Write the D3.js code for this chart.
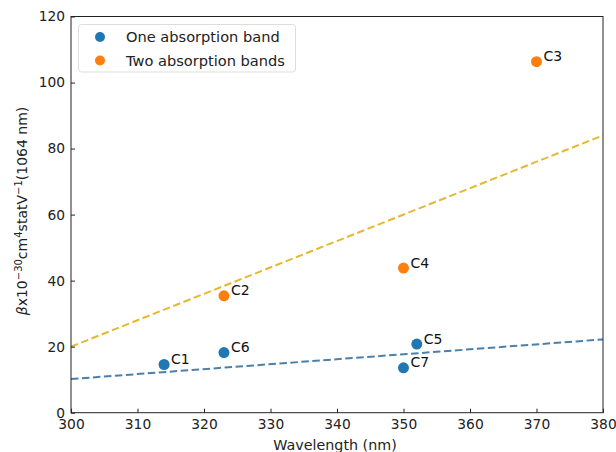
<!DOCTYPE html>
<html>
<head>
<meta charset="utf-8">
<script src="https://cdn.jsdelivr.net/npm/d3@7"></script>
<style>
  html, body { margin: 0; padding: 0; background: #fff; }
  svg { display: block; font-family: "DejaVu Sans", sans-serif; }
</style>
</head>
<body>
<svg id="chart" width="616" height="452"></svg>
<script>
// Compounds with one absorption band
const oneNames = ["C1", "C6", "C5", "C7"];
const oneWavelength = [314, 323, 352, 350];
const oneBeta = [14.6, 18.2, 20.8, 13.6];

// Compounds with two absorption bands
const twoNames = ["C2", "C4", "C3"];
const twoWavelength = [323, 350, 370];
const twoBeta = [35.4, 43.8, 106.3];

// Linear trend lines (endpoints)
const trendX = [300, 380];
const oneTrendY = [10.2, 22.2];
const twoTrendY = [20.0, 84.0];

const xTicks = [300, 310, 320, 330, 340, 350, 360, 370, 380];
const yTicks = [0, 20, 40, 60, 80, 100, 120];

const svg = d3.select("#chart");
const m = { left: 71, right: 603, top: 16.5, bottom: 412.7 };

const x = d3.scaleLinear().domain([300, 380]).range([m.left, m.right]);
const y = d3.scaleLinear().domain([0, 120]).range([m.bottom, m.top]);

// Trend lines
const line = d3.line().x(d => x(d[0])).y(d => y(d[1]));
svg.append("path")
  .datum(trendX.map((v, i) => [v, oneTrendY[i]]))
  .attr("d", line).attr("fill", "none")
  .attr("stroke", "#4a80aa").attr("stroke-width", 2)
  .attr("stroke-dasharray", "7.5,3.5");
svg.append("path")
  .datum(trendX.map((v, i) => [v, twoTrendY[i]]))
  .attr("d", line).attr("fill", "none")
  .attr("stroke", "#e5b832").attr("stroke-width", 2)
  .attr("stroke-dasharray", "7.5,3.5");

// Scatter points with labels
function drawSeries(names, xs, ys, color) {
  const data = names.map((n, i) => ({ n, x: xs[i], y: ys[i] }));
  const g = svg.append("g");
  g.selectAll("circle").data(data).enter().append("circle")
    .attr("cx", d => x(d.x)).attr("cy", d => y(d.y))
    .attr("r", 5.5).attr("fill", color);
  g.selectAll("text").data(data).enter().append("text")
    .attr("x", d => x(d.x) + 7).attr("y", d => y(d.y) - 0.5)
    .attr("font-size", 14).attr("fill", "#111")
    .text(d => d.n);
}
drawSeries(oneNames, oneWavelength, oneBeta, "#1f77b4");
drawSeries(twoNames, twoWavelength, twoBeta, "#ff7f0e");

// Axes with inward ticks
const xAxis = svg.append("g").attr("transform", `translate(0,${m.bottom})`)
  .call(d3.axisBottom(x).tickValues(xTicks).tickSize(-4).tickPadding(6.5).tickFormat(d3.format("d")));
const yAxis = svg.append("g").attr("transform", `translate(${m.left},0)`)
  .call(d3.axisLeft(y).tickValues(yTicks).tickSize(-4).tickPadding(6).tickFormat(d3.format("d")));
[xAxis, yAxis].forEach(a => {
  a.select(".domain").remove();
  a.selectAll("text").attr("font-size", 13.8).attr("font-family", "DejaVu Sans, sans-serif").attr("fill", "#222");
  a.selectAll("line").attr("stroke", "#222");
});

// Frame
svg.append("rect")
  .attr("x", m.left).attr("y", m.top)
  .attr("width", m.right - m.left).attr("height", m.bottom - m.top)
  .attr("fill", "none").attr("stroke", "#222").attr("stroke-width", 1);

// Axis titles
svg.append("text")
  .attr("x", 335).attr("y", 450)
  .attr("text-anchor", "middle").attr("font-size", 14.3).attr("fill", "#222")
  .text("Wavelength (nm)");

const yl = svg.append("text")
  .attr("transform", `translate(27,211) rotate(-90)`)
  .attr("text-anchor", "middle").attr("font-size", 14).attr("fill", "#222");
yl.append("tspan").attr("font-style", "italic").text("β");
yl.append("tspan").text("x10");
yl.append("tspan").attr("dy", -5.5).attr("font-size", 10).text("−30");
yl.append("tspan").attr("dy", 5.5).text("cm");
yl.append("tspan").attr("dy", -5.5).attr("font-size", 10).text("4");
yl.append("tspan").attr("dy", 5.5).text("statV");
yl.append("tspan").attr("dy", -5.5).attr("font-size", 10).text("−1");
yl.append("tspan").attr("dy", 5.5).text("(1064 nm)");

// Legend
const legendItems = [["One absorption band", "#1f77b4"], ["Two absorption bands", "#ff7f0e"]];
const lg = svg.append("g");
lg.append("rect").attr("x", 78.5).attr("y", 24.5).attr("width", 217).attr("height", 47.5)
  .attr("rx", 3).attr("fill", "#fff").attr("fill-opacity", 0.8)
  .attr("stroke", "#ddd");
legendItems.forEach((d, i) => {
  lg.append("circle").attr("cx", 100).attr("cy", 37 + i * 23.5).attr("r", 5).attr("fill", d[1]);
  lg.append("text").attr("x", 126).attr("y", 42 + i * 23.5)
    .attr("font-size", 14.6).attr("fill", "#222").text(d[0]);
});
</script>
</body>
</html>
